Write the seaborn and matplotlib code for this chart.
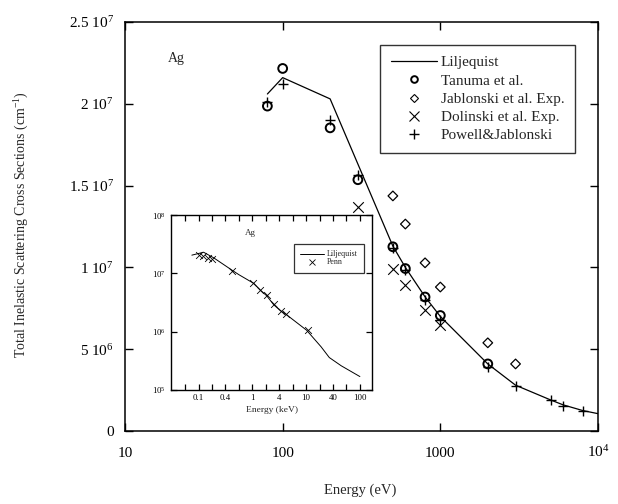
import matplotlib
matplotlib.use("Agg")
import matplotlib.pyplot as plt
from matplotlib.lines import Line2D
from matplotlib.ticker import FixedLocator, FixedFormatter, NullLocator
import pandas as pd
import seaborn as sns

# ---- main panel: total inelastic scattering cross sections for Ag (cm^-1) vs energy (eV)
lilj_energy = [80, 100, 200, 500, 600, 800, 1000, 2000, 3000, 5000, 6000, 8000, 10000]
lilj_sigma = [20.6e6, 21.6e6, 20.3e6, 11.3e6, 10.0e6, 8.2e6, 7.0e6, 4.1e6, 2.8e6,
              1.9e6, 1.6e6, 1.25e6, 1.06e6]

tanuma_energy = [80, 100, 200, 300, 500, 600, 800, 1000, 2000]
tanuma_sigma = [19.86e6, 22.16e6, 18.53e6, 15.36e6, 11.26e6, 9.93e6, 8.19e6, 7.06e6, 4.1e6]

jablonski_energy = [500, 600, 800, 1000, 2000, 3000]
jablonski_sigma = [14.37e6, 12.65e6, 10.28e6, 8.8e6, 5.39e6, 4.1e6]

dolinski_energy = [300, 500, 600, 800, 1000]
dolinski_sigma = [13.7e6, 9.93e6, 8.9e6, 7.41e6, 6.45e6]

powell_energy = [80, 100, 200, 300, 500, 600, 800, 1000, 2000, 3000, 5000, 6000, 8000]
powell_sigma = [20.1e6, 21.23e6, 19.04e6, 15.66e6, 11.16e6, 9.83e6, 8.03e6, 6.76e6,
                3.89e6, 2.76e6, 1.88e6, 1.54e6, 1.23e6]

x_ticks = [10, 100, 1000, 10000]
x_ticklabels = ["10", "100", "1000", r"$\mathregular{10^{4}}$"]
y_ticks = [0, 5e6, 1e7, 1.5e7, 2e7, 2.5e7]
y_ticklabels = ["0", r"$\mathregular{5\ 10^{6}}$", r"$\mathregular{1\ 10^{7}}$",
                r"$\mathregular{1.5\ 10^{7}}$", r"$\mathregular{2\ 10^{7}}$",
                r"$\mathregular{2.5\ 10^{7}}$"]

# ---- inset: wide energy range (keV), log-log
inset_lilj_energy = [0.075, 0.124, 0.19, 0.42, 0.56, 1.07, 1.43, 1.86, 2.49, 3.3, 4.3,
                     10.2, 19, 27, 45, 100]
inset_lilj_sigma = [2.05e7, 2.3e7, 1.85e7, 1.13e7, 0.95e7, 6.7e6, 5.1e6, 4.1e6, 2.9e6,
                    2.3e6, 1.96e6, 1.06e6, 5.5e5, 3.6e5, 2.6e5, 1.7e5]
penn_energy = [0.1, 0.12, 0.15, 0.18, 0.42, 1.05, 1.4, 1.86, 2.5, 3.4, 4.3, 10.8]
penn_sigma = [2.05e7, 1.97e7, 1.85e7, 1.75e7, 1.1e7, 6.7e6, 5.1e6, 4.2e6, 2.95e6,
              2.3e6, 2.0e6, 1.06e6]

inset_x_minor = [10 ** (k / 4) for k in range(-5, 9)]
inset_x_major = [0.1, 10 ** -0.5, 1, 10 ** 0.5, 10, 10 ** 1.5, 100]
inset_x_labels = ["0.1", "0.4", "1", "4", "10", "40", "100"]
inset_y_ticks = [1e5, 1e6, 1e7, 1e8]
inset_y_labels = [r"$\mathregular{10^{5}}$", r"$\mathregular{10^{6}}$",
                  r"$\mathregular{10^{7}}$", r"$\mathregular{10^{8}}$"]

sns.set_style("ticks")
plt.rcParams["font.family"] = ["Liberation Serif", "DejaVu Serif"]
plt.rcParams["mathtext.fontset"] = "custom"
plt.rcParams["mathtext.rm"] = "Liberation Serif"
plt.rcParams["mathtext.it"] = "Liberation Serif:italic"
plt.rcParams["axes.edgecolor"] = "black"
plt.rcParams["axes.linewidth"] = 1.1

fig = plt.figure(figsize=(6.18, 5.04), dpi=100)
ax = fig.add_axes([125 / 618, 1 - 431 / 504, 473 / 618, 409 / 504])

sns.lineplot(x=lilj_energy, y=lilj_sigma, ax=ax, color="black", linewidth=0.9,
             estimator=None, sort=False)
sns.scatterplot(x=tanuma_energy, y=tanuma_sigma, ax=ax, marker="o", s=40,
                facecolors="none", edgecolor="black", linewidth=1.4, zorder=3)
sns.scatterplot(x=jablonski_energy, y=jablonski_sigma, ax=ax, marker="D", s=24,
                facecolors="none", edgecolor="black", linewidth=0.9, zorder=3)
sns.scatterplot(x=dolinski_energy, y=dolinski_sigma, ax=ax, marker="x", s=58,
                color="black", linewidth=0.8, zorder=3)
sns.scatterplot(x=powell_energy, y=powell_sigma, ax=ax, marker="+", s=62,
                color="black", linewidth=1.0, zorder=3)

ax.set_xscale("log")
ax.set_xlim(10, 10000)
ax.set_ylim(0, 2.5e7)
ax.xaxis.set_major_locator(FixedLocator(x_ticks))
ax.xaxis.set_major_formatter(FixedFormatter(x_ticklabels))
ax.xaxis.set_minor_locator(NullLocator())
ax.yaxis.set_major_locator(FixedLocator(y_ticks))
ax.yaxis.set_major_formatter(FixedFormatter(y_ticklabels))
ax.tick_params(axis="both", which="major", direction="in", length=6, width=1.0,
               top=True, right=True, labelsize=11, colors="black")
ax.tick_params(axis="x", pad=19)
ax.tick_params(axis="y", pad=8)
for lbl in ax.get_xticklabels():
    lbl.set_verticalalignment("baseline")
for s in ax.spines.values():
    s.set_visible(True)
    s.set_color("black")

ax.set_xlabel("Energy (eV)", fontsize=10.5)
ax.set_ylabel(r"Total Inelastic Scattering Cross Sections (cm$^{\mathregular{-1}}$)",
              fontsize=10)
ax.xaxis.set_label_coords(0.498, -0.128)
ax.yaxis.set_label_coords(-0.198, 0.505)
ax.text(0.109, 0.911, "Ag", transform=ax.transAxes, fontsize=10, ha="center", va="center")

handles = [
    Line2D([], [], color="black", linewidth=0.9),
    Line2D([], [], marker="o", ls="none", mfc="none", mec="black", ms=4.8, mew=1.4),
    Line2D([], [], marker="D", ls="none", mfc="none", mec="black", ms=4.0, mew=0.8),
    Line2D([], [], marker="x", ls="none", color="black", ms=6.5, mew=0.8),
    Line2D([], [], marker="+", ls="none", color="black", ms=7.5, mew=1.0),
]
labels = ["Liljequist", "Tanuma et al.", "Jablonski et al. Exp.",
          "Dolinski et al. Exp.", "Powell&Jablonski"]
leg = ax.legend(handles, labels, loc="upper right", bbox_to_anchor=(0.951, 0.944),
                borderaxespad=0, fontsize=11, handlelength=3.0, handletextpad=0.26,
                borderpad=0.7, labelspacing=0.3, frameon=True, fancybox=False)
leg.get_frame().set_edgecolor("black")
leg.get_frame().set_linewidth(1.0)

# ---- inset
axi = fig.add_axes([171 / 618, 1 - 390 / 504, 201 / 618, 175 / 504])
axi.set_facecolor("white")
sns.lineplot(x=inset_lilj_energy, y=inset_lilj_sigma, ax=axi, color="black",
             linewidth=0.7, estimator=None, sort=False)
sns.scatterplot(x=penn_energy, y=penn_sigma, ax=axi, marker="x", s=24,
                color="black", linewidth=0.6, zorder=3)
axi.set_xscale("log")
axi.set_yscale("log")
axi.set_xlim(0.0307, 168)
axi.set_ylim(1e5, 1e8)
axi.xaxis.set_major_locator(FixedLocator(inset_x_major))
axi.xaxis.set_major_formatter(FixedFormatter(inset_x_labels))
axi.xaxis.set_minor_locator(FixedLocator(inset_x_minor))
axi.yaxis.set_major_locator(FixedLocator(inset_y_ticks))
axi.yaxis.set_major_formatter(FixedFormatter(inset_y_labels))
axi.yaxis.set_minor_locator(NullLocator())
axi.tick_params(axis="both", which="both", direction="in", length=4, width=0.9,
                top=True, right=True, labelsize=6.3, colors="black")
axi.tick_params(axis="x", which="major", pad=3)
axi.tick_params(axis="y", which="major", pad=4)
for s in axi.spines.values():
    s.set_visible(True)
    s.set_color("black")
    s.set_linewidth(1.0)
axi.set_xlabel("Energy (keV)", fontsize=6.8, labelpad=3)
axi.set_ylabel("")
axi.text(0.393, 0.897, "Ag", transform=axi.transAxes, fontsize=6.5,
         ha="center", va="center")

ihandles = [Line2D([], [], color="black", linewidth=0.7),
            Line2D([], [], marker="x", ls="none", color="black", ms=4, mew=0.6)]
ileg = axi.legend(ihandles, ["Liljequist", "Penn"], loc="upper right",
                  bbox_to_anchor=(0.96, 0.834), borderaxespad=0, fontsize=5.8,
                  handlelength=3.0, handletextpad=0.3, borderpad=0.8,
                  labelspacing=0.0, frameon=True, fancybox=False)
ileg.get_frame().set_edgecolor("black")
ileg.get_frame().set_linewidth(0.9)

fig.savefig("out.png", dpi=100, facecolor="white")
